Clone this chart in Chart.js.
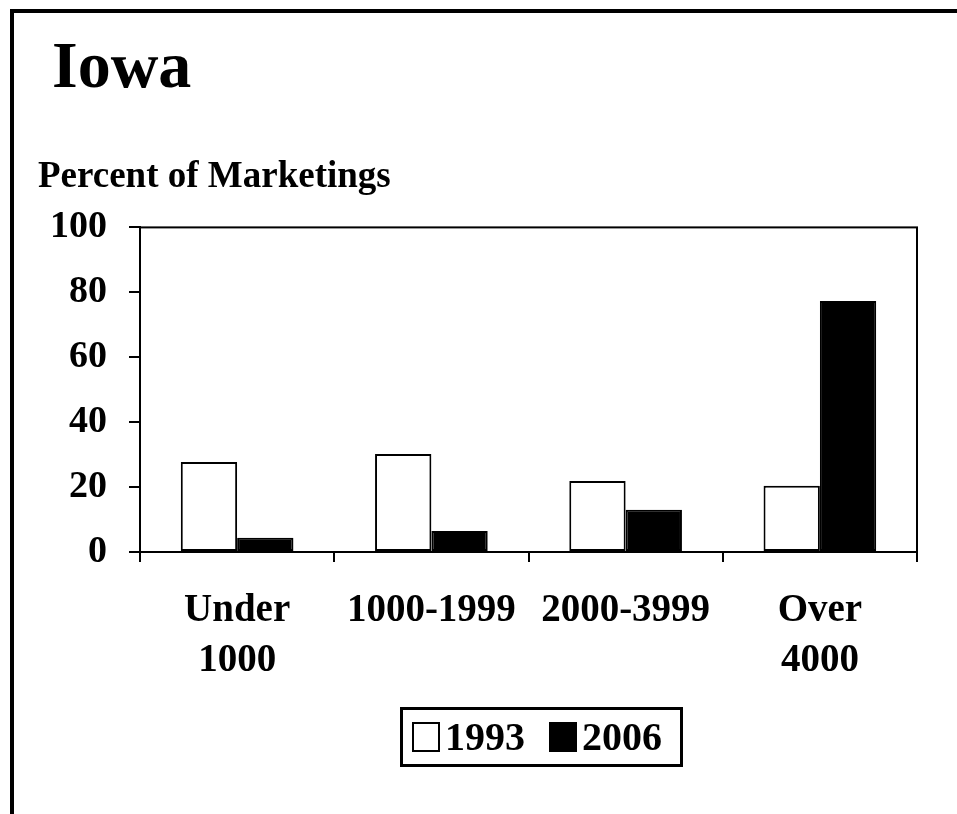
<!DOCTYPE html>
<html>
<head>
<meta charset="utf-8">
<script src="https://cdn.jsdelivr.net/npm/chart.js@4/dist/chart.umd.min.js"></script>
<style>
  html, body { margin: 0; padding: 0; background: #fff; overflow: hidden; }
  #wrap { position: relative; width: 957px; height: 814px; overflow: hidden; }
  #frame { position: absolute; left: 10px; top: 9px; width: 1200px; height: 1200px;
           border-left: 4px solid #000; border-top: 4px solid #000; box-sizing: border-box; }
  #title { position: absolute; left: 52px; top: 32px; margin: 0;
           font: bold 66px/1 "Liberation Serif", "Times New Roman", serif; color: #000; }
  #chart { position: absolute; left: 0; top: 0; }
  #legend { position: absolute; left: 400px; top: 707px; width: 283px; height: 60px;
            box-sizing: border-box; border: 3px solid #000; display: flex; align-items: center;
            padding-left: 9px; font: bold 40px/1 "Liberation Serif", "Times New Roman", serif; color: #000; }
  .sw { display: inline-block; width: 28px; height: 30px; box-sizing: border-box; border: 2px solid #000; margin-right: 5px; }
  .item { display: flex; align-items: center; margin-right: 24px; }
</style>
</head>
<body>
<div id="wrap">
  <div id="frame"></div>
  <canvas id="chart" width="957" height="814"></canvas>
  <h1 id="title">Iowa</h1>
  <div id="legend"></div>
</div>
<script>
const chartTitle = 'Iowa';
const axisTitle = 'Percent of Marketings';
const categories = [['Under', '1000'], '1000-1999', '2000-3999', ['Over', '4000']];
const seriesNames = ['1993', '2006'];
const values1993 = [27.7, 30.2, 21.9, 20.4];
const values2006 = [4.4, 6.5, 13.0, 77.3];
const yMin = 0, yMax = 100, yStep = 20;

const serif = '"Liberation Serif", "Times New Roman", serif';
const fills = ['#ffffff', '#000000'];

const frameBox = {
  id: 'frameBox',
  afterDatasetsDraw(chart) {
    const a = chart.chartArea, ctx = chart.ctx;
    ctx.save();
    ctx.strokeStyle = '#000';
    ctx.lineWidth = 2;
    ctx.strokeRect(a.left, a.top, a.right - a.left, a.bottom - a.top);
    ctx.restore();
  }
};

const datasets = [values1993, values2006].map((vals, i) => ({
  label: seriesNames[i],
  data: vals,
  backgroundColor: fills[i],
  borderColor: '#000',
  borderWidth: 2,
  borderSkipped: false,
  categoryPercentage: 0.58,
  barPercentage: 1.0
}));

new Chart(document.getElementById('chart'), {
  type: 'bar',
  data: { labels: categories, datasets },
  options: {
    responsive: false,
    animation: false,
    devicePixelRatio: 1,
    layout: { padding: { left: 38, right: 40, top: 0, bottom: 0 } },
    plugins: {
      legend: { display: false },
      tooltip: { enabled: false },
      title: {
        display: true,
        text: axisTitle,
        align: 'start',
        color: '#000',
        font: { family: serif, weight: 'bold', size: 37, lineHeight: 1.2 },
        padding: { top: 155, bottom: 28 }
      }
    },
    scales: {
      x: {
        grid: { display: true, drawOnChartArea: false, drawTicks: true, tickLength: 10, color: '#000', lineWidth: 2, offset: true },
        border: { display: true, color: '#000', width: 2 },
        ticks: { color: '#000', padding: 24, maxRotation: 0, autoSkip: false,
                 font: { family: serif, weight: 'bold', size: 39, lineHeight: 1.28 } },
        afterFit(scale) { scale.height = 262; }
      },
      y: {
        min: yMin, max: yMax,
        grid: { display: true, drawOnChartArea: false, drawTicks: true, tickLength: 11, color: '#000', lineWidth: 2 },
        border: { display: true, color: '#000', width: 2 },
        ticks: { stepSize: yStep, color: '#000', padding: 22,
                 font: { family: serif, weight: 'bold', size: 38 } },
        afterFit(scale) { scale.width = 102; }
      }
    }
  },
  plugins: [frameBox]
});

// HTML legend built from the series names and fills
const leg = document.getElementById('legend');
seriesNames.forEach((name, i) => {
  const it = document.createElement('span');
  it.className = 'item';
  const sw = document.createElement('span');
  sw.className = 'sw';
  sw.style.background = fills[i];
  const tx = document.createElement('span');
  tx.textContent = name;
  it.appendChild(sw); it.appendChild(tx);
  leg.appendChild(it);
});
</script>
</body>
</html>
